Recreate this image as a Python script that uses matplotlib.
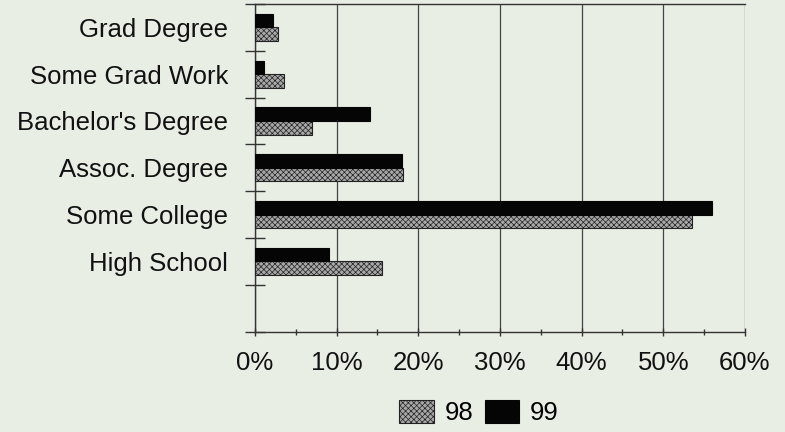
import numpy as np
import matplotlib.pyplot as plt
from matplotlib.ticker import MultipleLocator, FuncFormatter

categories = ["Grad Degree", "Some Grad Work", "Bachelor's Degree",
              "Assoc. Degree", "Some College", "High School"]
vals_98 = [2.8, 3.6, 7.0, 18.1, 53.5, 15.5]
vals_99 = [2.2, 1.15, 14.1, 18.0, 56.0, 9.1]

BG = '#e9eee5'
FS = 18.5
plt.rcParams['font.family'] = ['Liberation Sans', 'DejaVu Sans']
plt.rcParams['hatch.color'] = '#4a4a4a'
plt.rcParams['hatch.linewidth'] = 0.5

fig = plt.figure(figsize=(7.85, 4.32), dpi=100, facecolor=BG)
ax = fig.add_axes([0.3248, 0.2326, 0.6242, 0.7581], facecolor=BG)

y = np.arange(len(categories))
h = 0.29
ax.barh(y + 0.145, vals_98, height=h, color='#a8a8a8', hatch='xxxxxx',
        edgecolor='#222222', linewidth=0.8, label='98', zorder=3)
ax.barh(y - 0.145, vals_99, height=h, color='#050505',
        edgecolor='#050505', linewidth=0.8, label='99', zorder=3)

ax.set_xlim(0, 60)
ax.set_ylim(6.5, -0.5)
ax.xaxis.set_major_locator(MultipleLocator(10))
ax.xaxis.set_minor_locator(MultipleLocator(5))
ax.xaxis.set_major_formatter(FuncFormatter(lambda v, p: f"{v:.0f}%"))
ax.grid(axis='x', which='major', color='#444444', linewidth=0.9, zorder=1)

ax.set_yticks(np.arange(-0.5, 7, 1.0))
ax.set_yticklabels([])
ax.set_yticks(y, minor=True)
ax.set_yticklabels(categories, minor=True)
ax.tick_params(axis='y', which='major', direction='inout', length=14, width=1, color='#333333')
ax.tick_params(axis='y', which='minor', length=0, pad=19.5, labelsize=FS, labelcolor='#111111')
ax.tick_params(axis='x', which='major', direction='inout', length=6, width=1,
               color='#333333', pad=11, labelsize=FS, labelcolor='#111111')
ax.tick_params(axis='x', which='minor', direction='inout', length=4, width=1, color='#333333')

for s in ['left', 'bottom', 'top']:
    ax.spines[s].set_color('#333333')
    ax.spines[s].set_linewidth(1)
ax.spines['right'].set_visible(False)

leg = fig.legend(loc='center', bbox_to_anchor=(0.61, 0.045), ncol=2, frameon=False,
                 fontsize=FS, handlelength=1.35, handleheight=1.0,
                 handletextpad=0.4, columnspacing=0.45)

fig.savefig('out.png', dpi=100, facecolor=BG)
